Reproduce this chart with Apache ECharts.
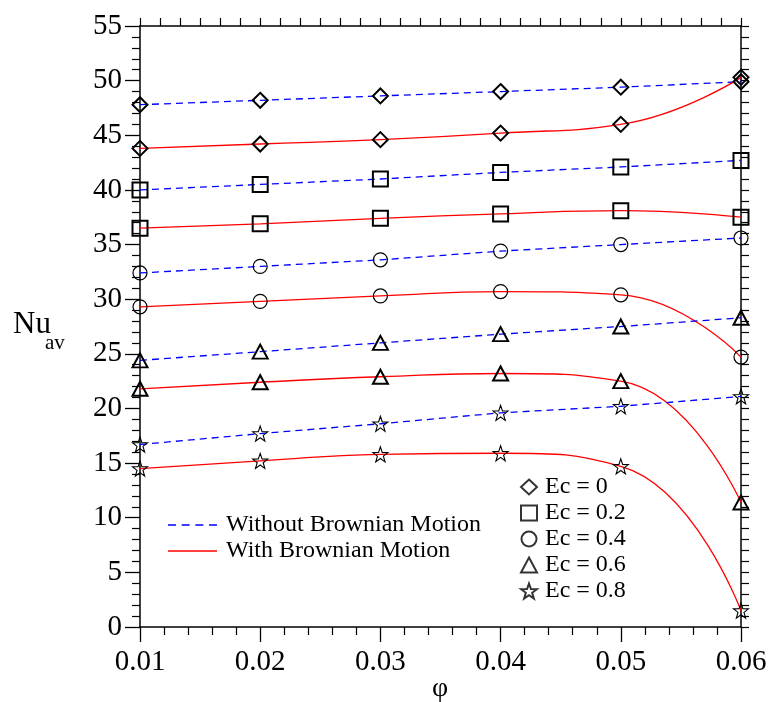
<!DOCTYPE html>
<html>
<head>
<meta charset="utf-8">
<script src="https://cdn.jsdelivr.net/npm/echarts@6/dist/echarts.min.js"></script>
<style>html,body{margin:0;padding:0;background:#fff;}#c{width:772px;height:702px;}</style>
</head>
<body>
<div id="c"></div>
<script>
// ---- data ----
var phi = [0.01, 0.02, 0.03, 0.04, 0.05, 0.06];
var ecLabels = ['Ec = 0', 'Ec = 0.2', 'Ec = 0.4', 'Ec = 0.6', 'Ec = 0.8'];
var withoutEc0  = [47.8, 48.2, 48.6, 49.0, 49.4, 49.9];
var withEc0     = [43.8, 44.2, 44.6, 45.2, 46.0, 50.3];
var withoutEc02 = [40.0, 40.5, 41.0, 41.6, 42.1, 42.7];
var withEc02    = [36.5, 36.9, 37.4, 37.8, 38.1, 37.5];
var withoutEc04 = [32.4, 33.0, 33.6, 34.4, 35.0, 35.6];
var withEc04    = [29.3, 29.8, 30.3, 30.7, 30.4, 24.7];
var withoutEc06 = [24.4, 25.2, 26.0, 26.8, 27.5, 28.3];
var withEc06    = [21.8, 22.4, 22.9, 23.2, 22.5, 11.4];
var withoutEc08 = [16.7, 17.7, 18.6, 19.6, 20.2, 21.1];
var withEc08    = [14.5, 15.2, 15.8, 15.9, 14.7, 1.5];
var yTicks = [0, 5, 10, 15, 20, 25, 30, 35, 40, 45, 50, 55];
var xTickLabels = ['0.01', '0.02', '0.03', '0.04', '0.05', '0.06'];

var withoutSets = [withoutEc0, withoutEc02, withoutEc04, withoutEc06, withoutEc08];
var withSets = [withEc0, withEc02, withEc04, withEc06, withEc08];

var FONT = '"Liberation Serif", "DejaVu Serif", serif';
var STAR = 'path://M100,0L123.5,67.6L195.1,69.1L138,112.4L158.8,180.9L100,140L41.2,180.9L62,112.4L4.9,69.1L76.5,67.6Z';
var DASH_ICON = 'path://M0,0h7v1.3h-7z M12,0h7v1.3h-7z M24,0h7v1.3h-7z M36,0h7v1.3h-7z';
var SOLID_ICON = 'path://M0,0h49v1.3h-49z';
var markers = [
  {symbol: 'diamond', size: [15, 15], bw: 2},
  {symbol: 'rect', size: [15, 15], bw: 2},
  {symbol: 'circle', size: [14, 14], bw: 1.2},
  {symbol: 'triangle', size: [15, 14], bw: 2},
  {symbol: STAR, size: [15, 15], bw: 1.1}
];

function pairs(arr) { return phi.map(function (x, i) { return [x, arr[i]]; }); }

var series = [];
// legend dummies for line types
series.push({name: 'Without Brownian Motion', type: 'line', data: [], symbol: 'none',
  lineStyle: {color: '#0000ff', type: [7, 5], width: 1.3}, itemStyle: {color: '#0000ff'}});
series.push({name: 'With Brownian Motion', type: 'line', data: [], symbol: 'none',
  lineStyle: {color: '#ff0000', type: 'solid', width: 1.3}, itemStyle: {color: '#ff0000'}});
// legend dummies for Ec markers
ecLabels.forEach(function (lab, k) {
  series.push({name: lab, type: 'scatter', data: [], symbol: markers[k].symbol, symbolSize: markers[k].size,
    itemStyle: {color: '#ffffff', borderColor: '#000', borderWidth: markers[k].bw}});
});
// actual curves
for (var k = 0; k < 5; k++) {
  series.push({name: 'without-' + k, type: 'line', data: pairs(withoutSets[k]), z: 3,
    symbol: markers[k].symbol, symbolSize: markers[k].size, showAllSymbol: true,
    lineStyle: {color: '#0000ff', type: [7, 5], width: 1.3},
    itemStyle: {color: 'rgba(255,255,255,0)', borderColor: '#000', borderWidth: markers[k].bw}});
  series.push({name: 'with-' + k, type: 'line', data: pairs(withSets[k]), z: 3, smooth: 0.5,
    symbol: markers[k].symbol, symbolSize: markers[k].size, showAllSymbol: true,
    lineStyle: {color: '#ff0000', type: 'solid', width: 1.3},
    itemStyle: {color: 'rgba(255,255,255,0)', borderColor: '#000', borderWidth: markers[k].bw}});
}

var axisLineStyle = {color: '#000', width: 1.5};
var option = {
  animation: false,
  backgroundColor: '#fff',
  grid: {left: 140, right: 31, top: 26, bottom: 75, outerBoundsMode: 'none', containLabel: false},
  xAxis: [{
    type: 'value', position: 'bottom', min: 0.01, max: 0.06, interval: 0.01,
    axisLine: {show: true, onZero: false, lineStyle: axisLineStyle},
    axisTick: {show: true, inside: false, length: 15, lineStyle: {color: '#000', width: 1.3}},
    minorTick: {show: true, splitNumber: 5, length: 8, lineStyle: {color: '#000', width: 1.2}},
    splitLine: {show: false}, minorSplitLine: {show: false},
    axisLabel: {fontFamily: FONT, fontSize: 29, color: '#000', margin: 21,
      formatter: function (v) { var i = Math.round(v / 0.01) - 1; return xTickLabels[i] || ''; }}
  }, {
    type: 'value', position: 'top', min: 0, max: 30, interval: 1,
    axisLine: {show: true, onZero: false, lineStyle: axisLineStyle},
    axisTick: {show: true, inside: false, length: 8, lineStyle: {color: '#000', width: 1.2}},
    axisLabel: {show: false}, splitLine: {show: false}
  }],
  yAxis: [{
    type: 'value', position: 'left', min: 0, max: 55, interval: 5,
    axisLine: {show: true, onZero: false, lineStyle: axisLineStyle},
    axisTick: {show: true, inside: false, length: 15, lineStyle: {color: '#000', width: 1.3}},
    minorTick: {show: true, splitNumber: 5, length: 8, lineStyle: {color: '#000', width: 1.2}},
    splitLine: {show: false}, minorSplitLine: {show: false},
    axisLabel: {fontFamily: FONT, fontSize: 29, color: '#000', margin: 18,
      formatter: function (v) { var i = Math.round(v / 5); return String(yTicks[i]); }}
  }, {
    type: 'value', position: 'right', min: 0, max: 55, interval: 1,
    axisLine: {show: true, onZero: false, lineStyle: axisLineStyle},
    axisTick: {show: true, inside: false, length: 8, lineStyle: {color: '#000', width: 1.2}},
    axisLabel: {show: false}, splitLine: {show: false}
  }],
  legend: [{
    data: [{name: 'Without Brownian Motion', icon: DASH_ICON}, {name: 'With Brownian Motion', icon: SOLID_ICON}],
    orient: 'vertical', left: 163, top: 507, itemWidth: 49, itemHeight: 2, itemGap: 0,
    selectedMode: false,
    textStyle: {fontFamily: FONT, fontSize: 24, color: '#000', lineHeight: 26, padding: [0, 0, 0, 4]}
  }, {
    data: ecLabels,
    orient: 'vertical', left: 515, top: 469, itemWidth: 16, itemHeight: 15, itemGap: 0,
    selectedMode: false,
    textStyle: {fontFamily: FONT, fontSize: 24, color: '#000', lineHeight: 26, padding: [0, 0, 0, 3]}
  }],
  graphic: [
    {type: 'text', left: 13, top: 309, style: {text: 'Nu', font: '31px ' + FONT, fill: '#000'}},
    {type: 'text', left: 45, top: 333, style: {text: 'av', font: '21px ' + FONT, fill: '#000'}},
    {type: 'text', x: 440, y: 689, style: {text: 'φ', font: '28px ' + FONT, fill: '#000',
      align: 'center', verticalAlign: 'middle'}}
  ],
  series: series
};

var chart = echarts.init(document.getElementById('c'), null, {renderer: 'canvas'});
chart.setOption(option);
</script>
</body>
</html>
